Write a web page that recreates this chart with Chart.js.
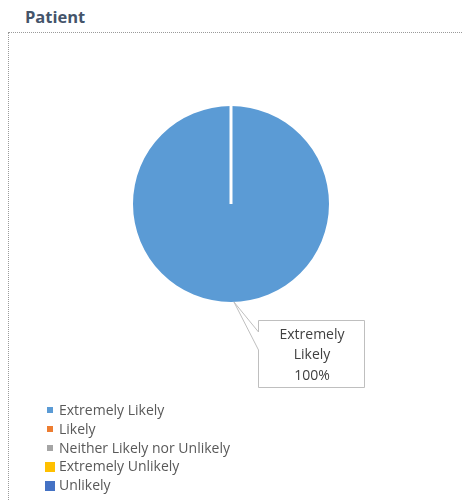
<!DOCTYPE html>
<html>
<head>
<meta charset="utf-8">
<script src="https://cdn.jsdelivr.net/npm/chart.js@4/dist/chart.umd.min.js"></script>
<style>
  body { margin: 0; background: #fff; font-family: "Open Sans", sans-serif; }
  .wrap { position: relative; width: 462px; height: 500px; overflow: hidden; }
  .title { position: absolute; left: 25px; top: 5px; font-size: 16.5px; font-weight: bold; color: #44546a; }
  .frame { position: absolute; left: 8px; top: 32px; width: 470px; height: 490px; border: 1px dotted #9a9a9a; }
  canvas { position: absolute; left: 0; top: 0; }
  .legend { position: absolute; left: 44px; top: 401px; font-size: 14px; color: #595959; }
  .legend div { height: 18.8px; line-height: 18.8px; display: flex; align-items: center; }
  .legend span.box { display: inline-block; }
</style>
</head>
<body>
<div class="wrap">
  <div class="title">Patient</div>
  <div class="frame"></div>
  <canvas id="pie" width="462" height="500"></canvas>
  <div class="legend" id="legend"></div>
</div>
<script>
const categories = ['Extremely Likely', 'Likely', 'Neither Likely nor Unlikely', 'Extremely Unlikely', 'Unlikely']
const values = [100, 0, 0, 0, 0]
const colors = ['#5b9bd5', '#ed7d31', '#a5a5a5', '#ffc000', '#4472c4']
const markerSizes = [6, 6, 6, 10, 10]

// white seam from the centre up to where the slice starts
const seamPlugin = {
  id: 'seam',
  afterDatasetsDraw(chart) {
    const arc = chart.getDatasetMeta(0).data[0]
    const { x, y, outerRadius, startAngle } = arc.getProps(['x', 'y', 'outerRadius', 'startAngle'], true)
    const ctx = chart.ctx
    ctx.save()
    ctx.strokeStyle = '#ffffff'
    ctx.lineWidth = 3
    ctx.beginPath()
    ctx.moveTo(x, y)
    ctx.lineTo(x + Math.cos(startAngle) * outerRadius, y + Math.sin(startAngle) * outerRadius)
    ctx.stroke()
    ctx.restore()
  }
}

// callout label like the office data label
const calloutPlugin = {
  id: 'callout',
  afterDraw(chart) {
    const arc = chart.getDatasetMeta(0).data[0]
    const { x, y, outerRadius } = arc.getProps(['x', 'y', 'outerRadius'], true)
    const ctx = chart.ctx
    const ang = Math.PI / 2 - 0.03
    const tipX = x + Math.cos(ang) * outerRadius
    const tipY = y + Math.sin(ang) * outerRadius
    const bx = 258, by = 320, bw = 106, bh = 67
    ctx.save()
    ctx.fillStyle = '#ffffff'
    ctx.strokeStyle = '#bfbfbf'
    ctx.lineWidth = 1
    ctx.beginPath()
    ctx.moveTo(bx + 0.5, by + 0.5)
    ctx.lineTo(bx + bw + 0.5, by + 0.5)
    ctx.lineTo(bx + bw + 0.5, by + bh + 0.5)
    ctx.lineTo(bx + 0.5, by + bh + 0.5)
    ctx.lineTo(bx + 0.5, by + 30)
    ctx.lineTo(tipX, tipY)
    ctx.lineTo(bx + 0.5, by + 12)
    ctx.closePath()
    ctx.fill()
    ctx.stroke()
    ctx.fillStyle = '#404040'
    ctx.font = '14px "Open Sans"'
    ctx.textAlign = 'center'
    ctx.textBaseline = 'middle'
    const pct = Math.round(values[0] / values.reduce((a, b) => a + b, 0) * 100) + '%'
    const lines = ['Extremely', 'Likely', pct]
    lines.forEach((t, i) => ctx.fillText(t, bx + bw / 2 + 1, by + 15 + i * 20.5))
    ctx.restore()
  }
}

new Chart(document.getElementById('pie'), {
  type: 'pie',
  data: {
    labels: categories,
    datasets: [{
      data: values,
      backgroundColor: colors,
      borderWidth: 0
    }]
  },
  options: {
    responsive: false,
    animation: false,
    layout: {
      padding: { top: 106, left: 133, right: 133, bottom: 198 }
    },
    plugins: {
      legend: { display: false },
      tooltip: { enabled: false }
    }
  },
  plugins: [seamPlugin, calloutPlugin]
})

const legendEl = document.getElementById('legend')
categories.forEach((name, i) => {
  const row = document.createElement('div')
  const box = document.createElement('span')
  box.className = 'box'
  box.style.width = markerSizes[i] + 'px'
  box.style.height = markerSizes[i] + 'px'
  box.style.background = colors[i]
  box.style.marginLeft = (markerSizes[i] === 6 ? 3 : 1) + 'px'
  box.style.marginRight = (markerSizes[i] === 6 ? 6 : 4) + 'px'
  row.appendChild(box)
  row.appendChild(document.createTextNode(name))
  legendEl.appendChild(row)
})
</script>
</body>
</html>
